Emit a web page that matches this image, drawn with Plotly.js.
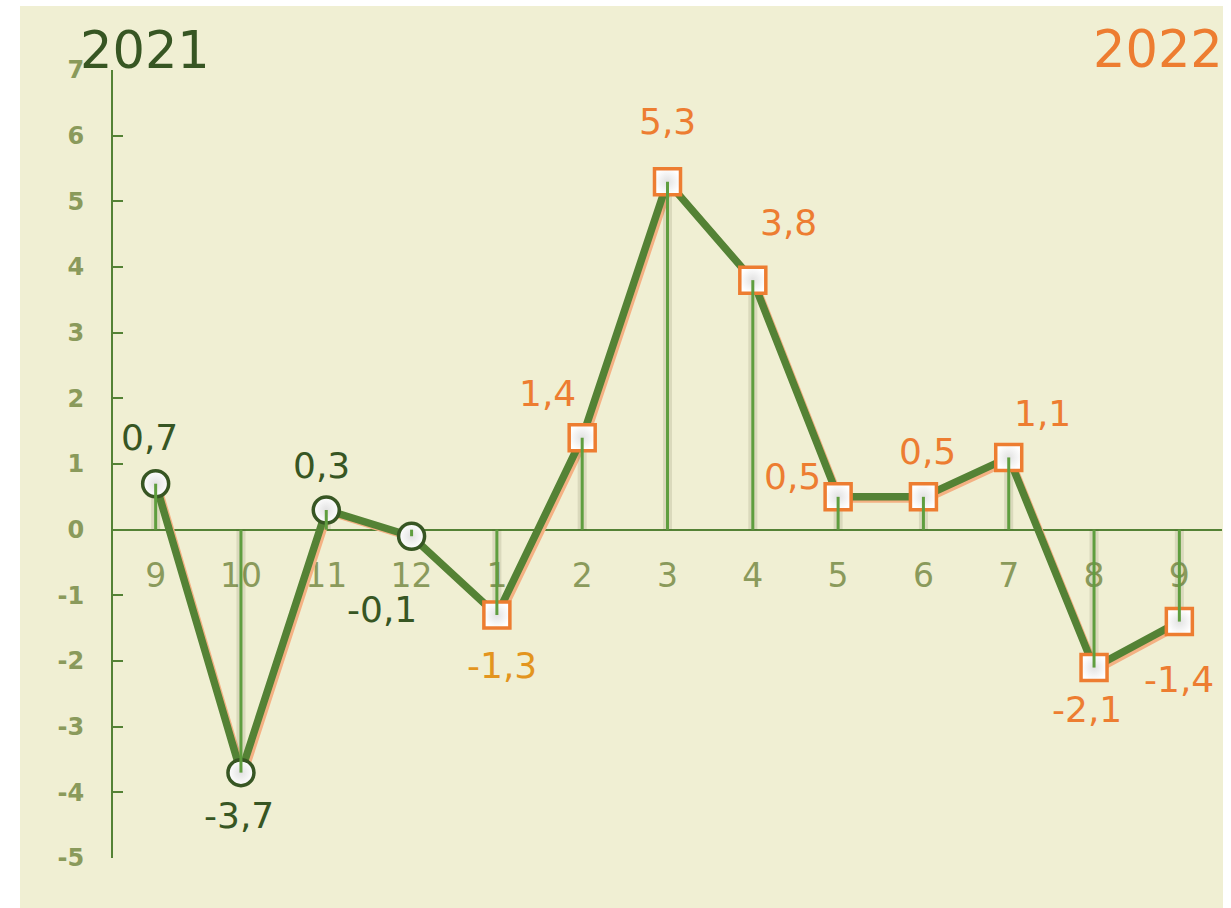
<!DOCTYPE html>
<html>
<head>
<meta charset="utf-8">
<script src="https://cdn.plot.ly/plotly-3.0.1.min.js"></script>
<style>
  body { margin: 0; background: #ffffff; }
  #myDiv { position: absolute; left: 20px; top: 6px; width: 1203px; height: 902px; }
</style>
</head>
<body>
<div id="myDiv"></div>
<script>
// month labels along the axis (Sep 2021 .. Sep 2022)
var months = ['9', '10', '11', '12', '1', '2', '3', '4', '5', '6', '7', '8', '9'];
var years = ['2021', '2021', '2021', '2021', '2022', '2022', '2022', '2022', '2022', '2022', '2022', '2022', '2022'];
var values = [0.7, -3.7, 0.3, -0.1, -1.3, 1.4, 5.3, 3.8, 0.5, 0.5, 1.1, -2.1, -1.4];
var yTicks = [-5, -4, -3, -2, -1, 0, 1, 2, 3, 4, 5, 6, 7];

// where each value label sits relative to its point (px)
var labelShift = [[-6, -46], [-2, 43], [-5, -44], [-30, 73], [5, 50], [-35, -44], [0, -60],
                  [36, -58], [-46, -20], [4, -45], [34, -44], [-7, 42], [0, 58]];

var green = '#548235', darkGreen = '#375623', orange = '#ed7d31';
var xs = months.map(function (m, i) { return i; });
var fmt = function (v) { return v.toFixed(1).replace('.', ','); };

var shadow = {
  x: xs.map(function (i) { return i + 0.035; }),
  y: values.map(function (v) { return v - 0.045; }),
  mode: 'lines', line: {color: '#f4b183', width: 6}, hoverinfo: 'skip'
};

var dropShade = {
  x: xs, y: values, mode: 'markers', marker: {size: 1, opacity: 0}, hoverinfo: 'skip',
  error_y: {type: 'data', symmetric: false, width: 0, thickness: 9, color: 'rgba(70,70,40,0.13)',
    array: values.map(function (v) { return v < 0 ? -v : 0; }),
    arrayminus: values.map(function (v) { return v > 0 ? v : 0; })}
};

var main = {
  x: xs, y: values, mode: 'lines+markers',
  line: {color: green, width: 7.5},
  marker: {
    symbol: years.map(function (y) { return y === '2021' ? 'circle' : 'square'; }),
    size: 26,
    opacity: 1,
    color: '#ffffff',
    gradient: {type: 'radial', color: '#e2e2e2'},
    line: {color: years.map(function (y) { return y === '2021' ? darkGreen : orange; }), width: 3.5}
  }
};

var drops = {
  x: xs, y: values, mode: 'markers', marker: {size: 1, opacity: 0}, hoverinfo: 'skip',
  error_y: {type: 'data', symmetric: false, width: 0, thickness: 3, color: '#5f9e3f',
    array: values.map(function (v) { return v < 0 ? -v : 0; }),
    arrayminus: values.map(function (v) { return v > 0 ? v : 0; })}
};

var annotations = values.map(function (v, i) {
  var c = years[i] === '2021' ? darkGreen : (i === 4 ? '#e3951e' : orange);
  return {x: i, y: v, text: fmt(v), showarrow: false, xanchor: 'center', yanchor: 'middle',
    xshift: labelShift[i][0], yshift: -labelShift[i][1],
    font: {family: 'DejaVu Sans', size: 36, color: c}};
});
annotations.push({xref: 'paper', yref: 'paper', x: -0.0316, y: 1.0247, xanchor: 'left', yanchor: 'middle',
  text: '2021', showarrow: false, font: {family: 'DejaVu Sans', size: 51, color: darkGreen}});
annotations.push({xref: 'paper', yref: 'paper', x: 1.0027, y: 1.0254, xanchor: 'right', yanchor: 'middle',
  text: '2022', showarrow: false, font: {family: 'DejaVu Sans', size: 51, color: orange}});

var layout = {
  width: 1203, height: 902,
  margin: {l: 93, r: 1, t: 64, b: 50},
  paper_bgcolor: '#f0efd3', plot_bgcolor: 'rgba(0,0,0,0)',
  showlegend: false,
  xaxis: {
    range: [-0.5, 12.5], anchor: 'free', position: 5 / 12,
    tickvals: xs, ticktext: months, ticks: '', showline: false, showgrid: false, zeroline: false,
    tickfont: {family: 'DejaVu Sans', size: 33, color: '#8a9a5b'},
    ticklabelstandoff: 23, layer: 'below traces', fixedrange: true
  },
  yaxis: {
    range: [-5, 7], tickvals: yTicks, ticktext: yTicks.map(String),
    showline: true, linecolor: green, linewidth: 2,
    ticks: 'inside', ticklen: 10, tickwidth: 2, tickcolor: green,
    showgrid: false, zeroline: true, zerolinecolor: green, zerolinewidth: 2,
    tickfont: {family: 'DejaVu Sans', size: 24, color: '#8a9a5b', weight: 'bold'},
    ticklabelstandoff: 22, layer: 'below traces', fixedrange: true
  },
  annotations: annotations
};

Plotly.newPlot('myDiv', [shadow, dropShade, main, drops], layout, {staticPlot: true});
</script>
</body>
</html>
